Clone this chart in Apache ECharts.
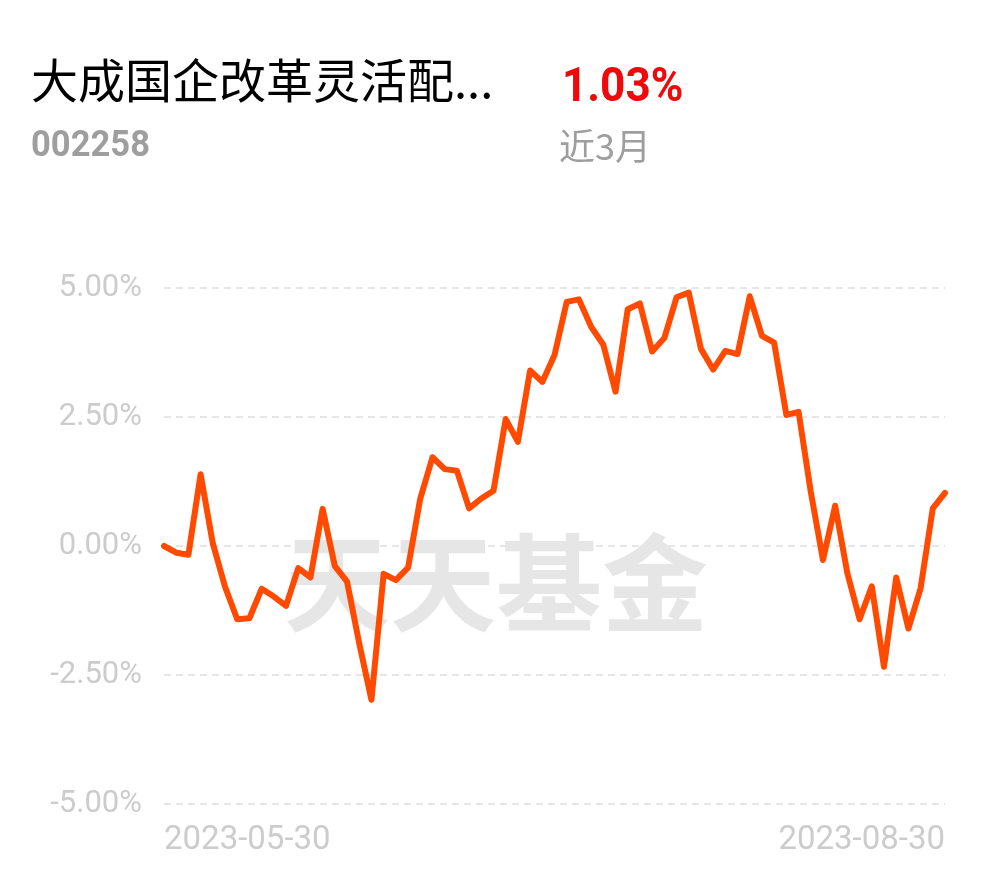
<!DOCTYPE html>
<html>
<head>
<meta charset="utf-8">
<script src="https://cdn.jsdelivr.net/npm/echarts@6/dist/echarts.min.js"></script>
<style>
html,body{margin:0;padding:0;background:#fff;}
#main{width:990px;height:878px;}
</style>
</head>
<body>
<div id="main"></div>
<script>
const fundName = '大成国企改革灵活配...';
const fundCode = '002258';
const periodReturn = '1.03%';
const periodLabel = '近3月';
const watermark = '天天基金';

const dates = [
  '2023-05-30','2023-05-31',
  '2023-06-01','2023-06-02','2023-06-05','2023-06-06','2023-06-07','2023-06-08','2023-06-09',
  '2023-06-12','2023-06-13','2023-06-14','2023-06-15','2023-06-16','2023-06-19','2023-06-20',
  '2023-06-21','2023-06-26','2023-06-27','2023-06-28','2023-06-29','2023-06-30',
  '2023-07-03','2023-07-04','2023-07-05','2023-07-06','2023-07-07',
  '2023-07-10','2023-07-11','2023-07-12','2023-07-13','2023-07-14',
  '2023-07-17','2023-07-18','2023-07-19','2023-07-20','2023-07-21',
  '2023-07-24','2023-07-25','2023-07-26','2023-07-27','2023-07-28','2023-07-31',
  '2023-08-01','2023-08-02','2023-08-03','2023-08-04',
  '2023-08-07','2023-08-08','2023-08-09','2023-08-10','2023-08-11',
  '2023-08-14','2023-08-15','2023-08-16','2023-08-17','2023-08-18',
  '2023-08-21','2023-08-22','2023-08-23','2023-08-24','2023-08-25',
  '2023-08-28','2023-08-29','2023-08-30'
];

const returns = [
  0.00, -0.13, -0.17, 1.39, 0.05, -0.79, -1.42, -1.40, -0.83, -0.98,
  -1.16, -0.43, -0.61, 0.72, -0.39, -0.69, -1.89, -2.98, -0.54, -0.66,
  -0.42, 0.92, 1.72, 1.49, 1.46, 0.73, 0.92, 1.07, 2.46, 2.02,
  3.40, 3.18, 3.70, 4.73, 4.78, 4.25, 3.90, 2.99, 4.59, 4.70,
  3.77, 4.03, 4.82, 4.91, 3.82, 3.42, 3.78, 3.72, 4.84, 4.07,
  3.94, 2.54, 2.60, 1.05, -0.27, 0.78, -0.53, -1.42, -0.78, -2.34,
  -0.61, -1.60, -0.82, 0.73, 1.03
];

const yTicks = [-5, -2.5, 0, 2.5, 5];

const chart = echarts.init(document.getElementById('main'));
const lastIdx = dates.length - 1;

chart.setOption({
  animation: false,
  backgroundColor: '#fff',
  grid: { left: 164, right: 45, top: 288, bottom: 74, containLabel: false },
  xAxis: {
    type: 'category',
    data: dates,
    boundaryGap: false,
    axisLine: { show: false },
    axisTick: { show: false },
    splitLine: { show: false },
    axisLabel: {
      interval: function (i) { return i === 0 || i === lastIdx; },
      showMinLabel: true,
      showMaxLabel: true,
      alignMinLabel: 'left',
      alignMaxLabel: 'right',
      color: '#cccccc',
      fontSize: 33,
      fontFamily: 'Roboto',
      margin: 20
    }
  },
  yAxis: {
    type: 'value',
    min: yTicks[0],
    max: yTicks[yTicks.length - 1],
    interval: 2.5,
    axisLine: { show: false },
    axisTick: { show: false },
    axisLabel: {
      formatter: function (v) { return v.toFixed(2) + '%'; },
      color: '#cccccc',
      fontSize: 31,
      fontFamily: 'Roboto',
      margin: 22
    },
    splitLine: {
      show: true,
      lineStyle: { color: '#e6e6e6', width: 2, type: [7, 5] }
    }
  },
  graphic: [
    { type: 'text', left: 31, top: 57, z: 10,
      style: { text: fundName, fill: '#000', font: '47px "Noto Sans CJK SC"' } },
    { type: 'text', x: 562, y: 64, scaleX: 0.9, z: 10,
      style: { text: periodReturn, fill: '#ee0a0a', font: 'bold 49px Roboto' } },
    { type: 'text', x: 31, y: 129, scaleX: 0.96, z: 10,
      style: { text: fundCode, fill: '#9e9e9e', font: 'bold 36px Roboto' } },
    { type: 'text', left: 559, top: 128, z: 10,
      style: { text: periodLabel, fill: '#9e9e9e', font: '36px "Noto Sans CJK SC"' } },
    { type: 'text', left: 284, top: 530, z: 0,
      style: { text: watermark, fill: '#e6e6e6', font: 'bold 106px "Noto Sans CJK SC"' } }
  ],
  series: [{
    type: 'line',
    data: returns,
    showSymbol: false,
    symbol: 'none',
    lineStyle: { color: '#ff4a00', width: 6, join: 'round', cap: 'round' },
    z: 5
  }]
});
</script>
</body>
</html>
